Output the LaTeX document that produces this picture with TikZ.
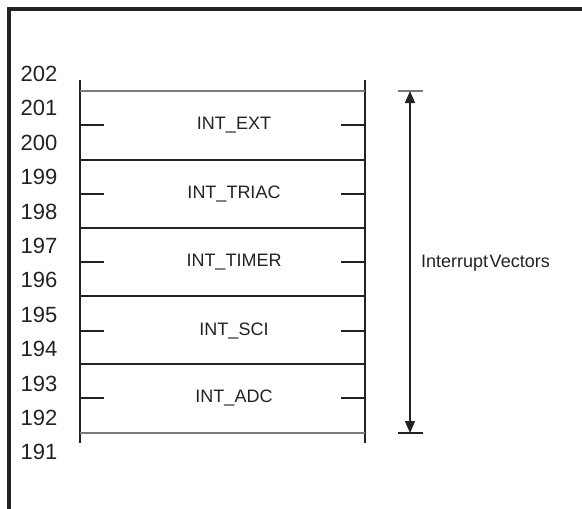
\documentclass[tikz,border=0pt]{standalone}
\usepackage{fontspec}
\setmainfont{Liberation Sans}
\usetikzlibrary{arrows.meta}
\definecolor{ink}{HTML}{222222}
\definecolor{greyline}{HTML}{7A7A7A}
\tikzset{
  numlabel/.style={anchor=center, inner sep=0pt, text=ink, font=\fontsize{22}{22}\selectfont},
  boxlabel/.style={anchor=center, inner sep=0pt, text=ink, font=\fontsize{18}{18}\selectfont},
  divider/.style={draw=ink, line width=2.2pt},
  edgeline/.style={draw=greyline, line width=1.8pt},
  tick/.style={draw=ink, line width=1.4pt},
  rail/.style={draw=ink, line width=2.4pt},
  frameline/.style={draw=ink, line width=3.2pt},
}
\begin{document}
\begin{tikzpicture}[x=1pt,y=-1pt]
\useasboundingbox (0,0) rectangle (582,509);
% outer frame
\coordinate (fTL) at (9,9);
\coordinate (fTR) at (582,9);
\coordinate (fBL) at (9,509);
\draw[frameline] (fTR) -- (fTL) -- (fBL);
% memory rails
\coordinate (lTop) at (80,80);
\coordinate (lBot) at (80,443);
\coordinate (rTop) at (365,80);
\coordinate (rBot) at (365,443);
\draw[rail] (lTop) -- (lBot);
\draw[rail] (rTop) -- (rBot);
% horizontal lines
\foreach \y/\n in {91/a,160/b,228/c,296/d,364/e,433/f}{
  \coordinate (hl\n) at (80,\y);
  \coordinate (hr\n) at (365,\y);
}
\draw[edgeline] (hla) -- (hra);
\draw[divider] (hlb) -- (hrb);
\draw[divider] (hlc) -- (hrc);
\draw[divider] (hld) -- (hrd);
\draw[divider] (hle) -- (hre);
\draw[edgeline] (hlf) -- (hrf);
% ticks
\foreach \y/\n in {125/1,194/2,262/3,331/4,398/5}{
  \coordinate (tl\n) at (80,\y);
  \coordinate (tli\n) at (104,\y);
  \coordinate (tr\n) at (365,\y);
  \coordinate (tri\n) at (341,\y);
  \draw[tick] (tl\n) -- (tli\n);
  \draw[tick] (tr\n) -- (tri\n);
}
% box labels
\node[boxlabel] (ext) at (234,125) {INT\_EXT};
\node[boxlabel] (triac) at (234,194) {INT\_TRIAC};
\node[boxlabel] (timer) at (234,262) {INT\_TIMER};
\node[boxlabel] (sci) at (234,331) {INT\_SCI};
\node[boxlabel] (adc) at (234,398) {INT\_ADC};
% address labels
\foreach \k/\v in {0/202,1/201,2/200,3/199,4/198,5/197,6/196,7/195,8/194,9/193,10/192,11/191}{
  \node[numlabel] (n\v) at (39,{74+34.4*\k}) {\v};
}
% span arrow
\coordinate (aTop) at (410,91);
\coordinate (aBot) at (410,433);
\coordinate (cTL) at (398,91);
\coordinate (cTR) at (423,91);
\coordinate (cBL) at (398,433);
\coordinate (cBR) at (423,433);
\draw[edgeline] (cTL) -- (cTR);
\draw[draw=ink, line width=1.8pt] (cBL) -- (cBR);
\draw[draw=ink, line width=1.6pt, {Triangle[length=12pt,width=10pt]}-{Triangle[length=12pt,width=10pt]}] (aTop) -- (aBot);
\node[boxlabel, anchor=west] (iv) at (421,263) {Interrupt\hspace{1.5pt}Vectors};
\end{tikzpicture}
\end{document}
